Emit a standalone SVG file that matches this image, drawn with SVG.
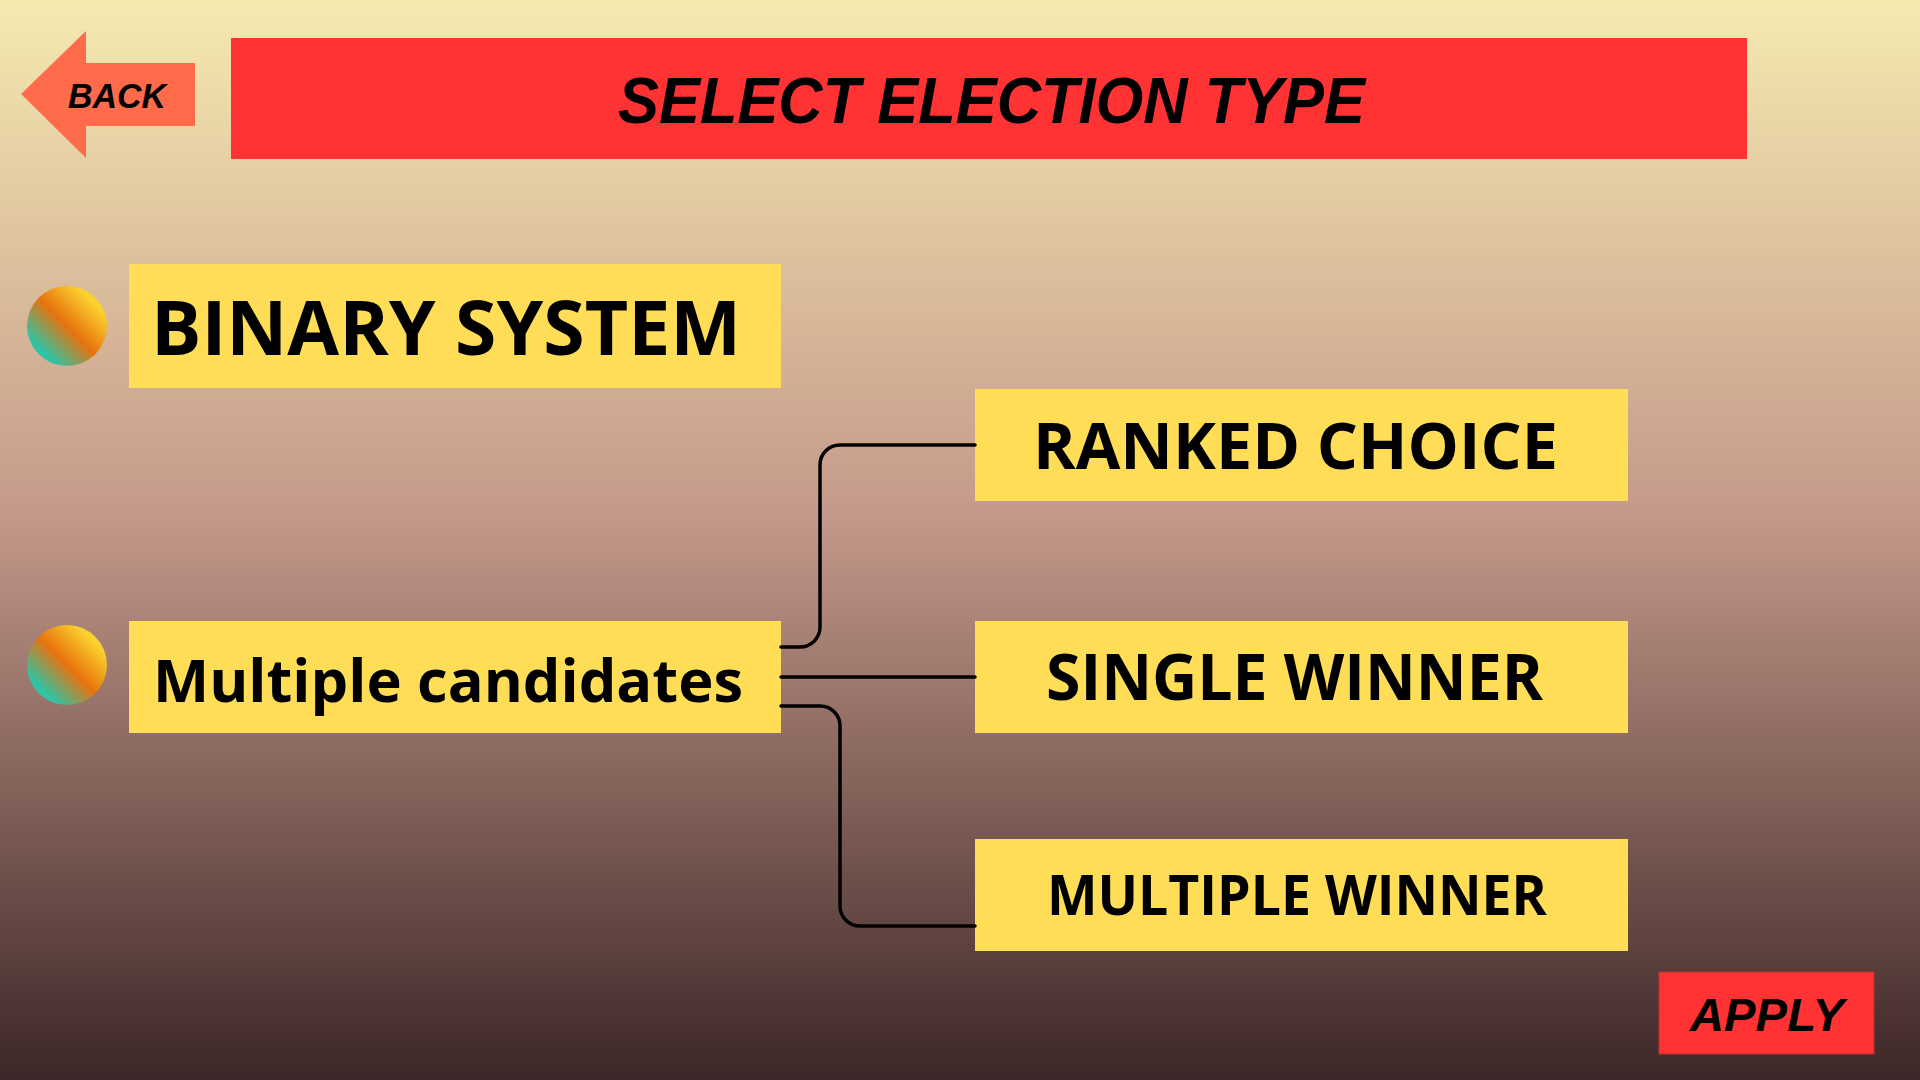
<svg xmlns="http://www.w3.org/2000/svg" width="1920" height="1080" viewBox="0 0 1920 1080">
  <defs>
    <linearGradient id="bg" x1="0" y1="0" x2="0" y2="1">
      <stop offset="0" stop-color="#F5EAB0"/>
      <stop offset="0.25" stop-color="#DCBF9C"/>
      <stop offset="0.48" stop-color="#C4988A"/>
      <stop offset="0.75" stop-color="#7E5E56"/>
      <stop offset="1" stop-color="#3C2627"/>
    </linearGradient>
    <linearGradient id="bullet" x1="0.15" y1="0.85" x2="0.85" y2="0.15">
      <stop offset="0.05" stop-color="#2EC4A8"/>
      <stop offset="0.5" stop-color="#E8730C"/>
      <stop offset="0.95" stop-color="#FBD12F"/>
    </linearGradient>
    <style>
      .box { fill: #FFDD57; }
      .red { fill: #FF3333; }
      .label { font-family: "Open Sans", "Noto Sans", "Liberation Sans", sans-serif; font-weight: 700; fill: #000; }
      .ital { font-family: "Liberation Sans", Arial, sans-serif; font-weight: 700; font-style: italic; fill: #000; }
      .wire { fill: none; stroke: #000; stroke-width: 3.5; stroke-linecap: round; }
    </style>
  </defs>

  <rect x="0" y="0" width="1920" height="1080" fill="url(#bg)"/>

  <g id="back">
    <polygon points="21,94 86,31 86,63 195,63 195,126 86,126 86,158" fill="#FF6B4B"/>
    <text class="ital" x="68" y="108" font-size="35" textLength="98" lengthAdjust="spacingAndGlyphs">BACK</text>
  </g>

  <g id="title">
    <rect class="red" x="231" y="38" width="1516" height="121"/>
    <text class="ital" x="618" y="123" font-size="64" textLength="747" lengthAdjust="spacingAndGlyphs">SELECT ELECTION TYPE</text>
  </g>

  <g id="binary">
    <circle cx="67" cy="326" r="40" fill="url(#bullet)"/>
    <rect class="box" x="129" y="264" width="652" height="124"/>
    <text class="label" x="151" y="355" font-size="75" textLength="590" lengthAdjust="spacingAndGlyphs">BINARY SYSTEM</text>
  </g>

  <g id="multiple-candidates">
    <circle cx="67" cy="665" r="40" fill="url(#bullet)"/>
    <rect class="box" x="129" y="621" width="652" height="112"/>
    <text class="label" x="153" y="702" font-size="59" textLength="590" lengthAdjust="spacingAndGlyphs">Multiple candidates</text>
  </g>

  <g id="ranked-choice">
    <rect class="box" x="975" y="389" width="653" height="112"/>
    <text class="label" x="1033" y="469" font-size="65" textLength="525" lengthAdjust="spacingAndGlyphs">RANKED CHOICE</text>
  </g>

  <g id="single-winner">
    <rect class="box" x="975" y="621" width="653" height="112"/>
    <text class="label" x="1046" y="700" font-size="64" textLength="497" lengthAdjust="spacingAndGlyphs">SINGLE WINNER</text>
  </g>

  <g id="multiple-winner">
    <rect class="box" x="975" y="839" width="653" height="112"/>
    <text class="label" x="1047" y="915" font-size="56" textLength="500" lengthAdjust="spacingAndGlyphs">MULTIPLE WINNER</text>
  </g>

  <g id="apply">
    <rect class="red" x="1659" y="972" width="215" height="82" stroke="#B83232" stroke-width="1"/>
    <text class="ital" x="1690" y="1031" font-size="47" textLength="154" lengthAdjust="spacingAndGlyphs">APPLY</text>
  </g>

  <g id="connectors">
    <path class="wire" d="M781,647 H800 A20,20 0 0 0 820,627 V465 A20,20 0 0 1 840,445 H975"/>
    <path class="wire" d="M781,677 H975"/>
    <path class="wire" d="M781,706 H820 A20,20 0 0 1 840,726 V906 A20,20 0 0 0 860,926 H975"/>
  </g>
</svg>
